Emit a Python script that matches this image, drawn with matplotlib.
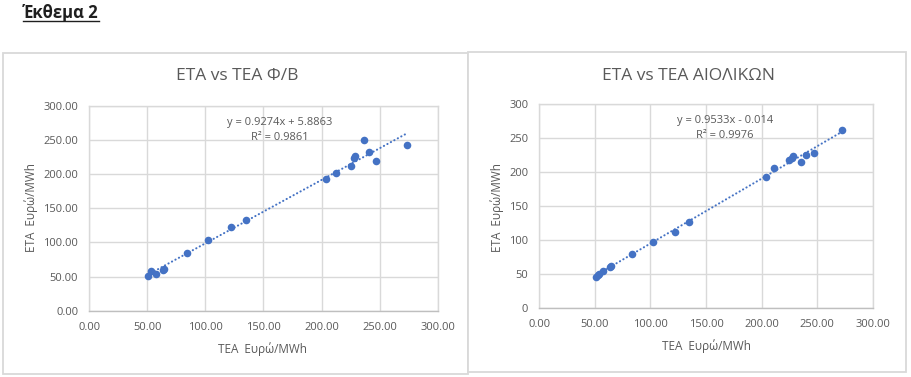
import matplotlib

matplotlib.use("Agg")
import matplotlib.pyplot as plt
import numpy as np
from matplotlib.patches import Rectangle
from matplotlib.lines import Line2D

plt.rcParams["font.family"] = ["Open Sans", "DejaVu Sans"]

# --- data ---
pv_tea = [50.2, 52.8, 57.1, 63.2, 64.6, 84.1, 102.2, 122.0, 134.6, 204.1,
          212.2, 225.1, 228.0, 229.1, 236.3, 240.6, 247.2, 273.3]
pv_eta = [50.7, 57.6, 54.1, 59.5, 60.5, 83.9, 103.9, 122.4, 133.2, 192.2,
          201.0, 212.2, 222.9, 226.3, 249.3, 232.2, 218.5, 242.9]
pv_slope, pv_intercept, pv_r2 = 0.9274, 5.8863, 0.9861

wind_tea = [51.0, 52.5, 54.0, 57.6, 63.6, 64.5, 83.4, 102.0, 122.1, 134.4,
            204.0, 211.5, 225.0, 227.1, 228.6, 235.2, 240.0, 246.9, 272.7]
wind_eta = [46.1, 48.5, 50.5, 54.4, 60.8, 61.8, 79.4, 97.5, 111.8, 127.5,
            192.6, 206.4, 217.6, 220.6, 224.5, 215.7, 225.5, 228.4, 262.3]
wind_slope, wind_intercept, wind_r2 = 0.9533, -0.014, 0.9976

ticks = [0, 50, 100, 150, 200, 250, 300]

TEXT = "#595959"
GRID = "#D9D9D9"
BLUE = "#4472C4"

W, H = 911, 377
fig = plt.figure(figsize=(W / 100, H / 100), dpi=100)


def box(x0, y0, x1, y1):
    """pixel box (top-left origin) -> figure fraction rect"""
    return [x0 / W, 1 - y1 / H, (x1 - x0) / W, (y1 - y0) / H]


# chart frames, kept behind the axes
for x0, y0, x1, y1 in [(3, 52.5, 468, 373.5), (468, 51.5, 906, 372)]:
    l, b, w, h = box(x0, y0, x1, y1)
    fig.patches.append(Rectangle((l, b), w, h, transform=fig.transFigure,
                                 facecolor="white", edgecolor=GRID, lw=1.3,
                                 zorder=-10))

# header
hdr = fig.text(23 / W, 1 - 18 / H, "Έκθεμα 2", fontsize=12,
               fontweight="bold", color="#1F1F1F", ha="left", va="baseline")
fig.canvas.draw()
bb = hdr.get_window_extent()
fig.lines.append(Line2D([bb.x0 / W, bb.x1 / W], [1 - 20.5 / H, 1 - 20.5 / H],
                        transform=fig.transFigure, color="#1F1F1F", lw=1))


def draw(rect, x, y, slope, intercept, r2, title, ylabels, eq, title_xy,
         xlab_xy, ylab_xy, eq_xy):
    ax = fig.add_axes(box(*rect))
    ax.patch.set_alpha(0)
    ax.set_xlim(0, 300)
    ax.set_ylim(0, 300)
    ax.set_xticks(ticks)
    ax.set_yticks(ticks)
    ax.set_xticklabels([f"{t:.2f}" for t in ticks])
    ax.set_yticklabels(ylabels)
    ax.tick_params(length=0, labelsize=8, labelcolor=TEXT, pad=8)
    ax.grid(True, color=GRID, lw=1)
    for s in ax.spines.values():
        s.set_color(GRID)
        s.set_linewidth(1)
    ax.spines["bottom"].set_color("#BFBFBF")
    ax.set_axisbelow(True)

    xs = np.array([min(x), max(x)])
    ax.plot(xs, slope * xs + intercept, color=BLUE, lw=1.5,
            linestyle=(0, (0.1, 1.8)), dash_capstyle="round", zorder=2)
    ax.scatter(x, y, s=30, color=BLUE, zorder=3, linewidths=0)

    fig.text(title_xy[0] / W, 1 - title_xy[1] / H, title, fontsize=12.5,
             color=TEXT, ha="center", va="center")
    fig.text(xlab_xy[0] / W, 1 - xlab_xy[1] / H, "TEA  Ευρώ/MWh",
             fontsize=8.5, color=TEXT, ha="center", va="center")
    fig.text(ylab_xy[0] / W, 1 - ylab_xy[1] / H, "ETA  Ευρώ/MWh",
             fontsize=8.5, color=TEXT, ha="center", va="center",
             rotation=90)
    fig.text(eq_xy[0] / W, 1 - eq_xy[1] / H, eq, fontsize=8, color=TEXT,
             ha="center", va="center")
    fig.text(eq_xy[0] / W, 1 - (eq_xy[1] + 16) / H, f"R² = {r2:.4f}",
             fontsize=8, color=TEXT, ha="center", va="center")
    return ax


draw((89.3, 105.7, 437.7, 310.7), pv_tea, pv_eta, pv_slope, pv_intercept,
     pv_r2, "ETA vs TEA Φ/Β", [f"{t:.2f}" for t in ticks],
     f"y = {pv_slope}x + {pv_intercept}",
     (237, 76), (263, 349), (31, 208), (280, 122))

draw((539.3, 104.3, 872.7, 308.3), wind_tea, wind_eta, wind_slope,
     wind_intercept, wind_r2, "ETA vs TEA ΑΙΟΛΙΚΩΝ", [str(t) for t in ticks],
     f"y = {wind_slope}x - {abs(wind_intercept)}",
     (688, 76), (706, 346), (497, 207), (725, 120))

fig.savefig("out.png", dpi=100)
